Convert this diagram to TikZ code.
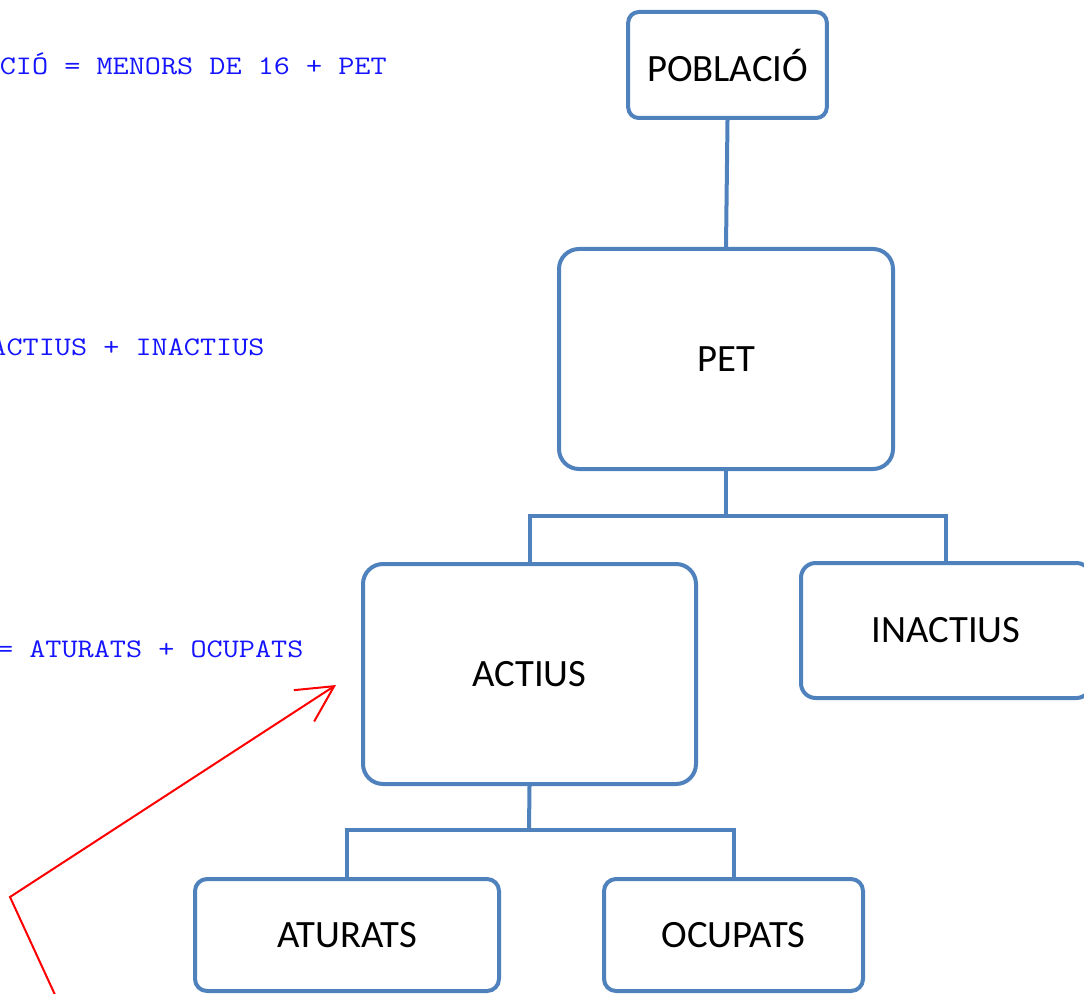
\documentclass[tikz,border=0pt]{standalone}
\usepackage{fontspec}
\setmainfont{Carlito}
\newfontfamily\monofnt[FakeStretch=1.168]{Latin Modern Mono}
\usetikzlibrary{arrows.meta}
\definecolor{boxblue}{RGB}{79,129,189}
\definecolor{txtblue}{RGB}{20,20,255}
\begin{document}
\begin{tikzpicture}[x=0.75pt,y=-0.75pt,
  box/.style={draw=boxblue,line width=3pt,rounded corners=9pt,fill=white,
    font=\fontsize{29}{34}\selectfont,align=center,inner sep=0pt},
  bigbox/.style={box,rounded corners=15pt},
  conn/.style={draw=boxblue,line width=3pt},
  eq/.style={anchor=base west,inner sep=0pt,text=txtblue,font=\monofnt\fontsize{20.1}{24}\selectfont},
  redarrow/.style={draw=red,line width=1.5pt,-{Straight Barb[length=27pt,width=28pt,line width=1.5pt]}}]
\useasboundingbox (0,0) rectangle (1084,994);
\clip (0,0) rectangle (1084,994);
% equations
\node[eq] (e1) at (-81,75) {POBLACIÓ = MENORS DE 16 + PET};
\node[eq] (e2) at (-106.5,356) {PET = ACTIUS + INACTIUS};
\node[eq] (e3) at (-116,657) {ACTIUS = ATURATS + OCUPATS};
% boxes
\node[box,rounded corners=8pt,minimum width=149pt,minimum height=79.5pt] (pob) at (727.5,65) {POBLACIÓ};
\node[bigbox,minimum width=250.5pt,minimum height=165pt] (pet) at (726,359) {PET};
\node[bigbox,minimum width=249.75pt,minimum height=165pt] (act) at (529.5,674) {ACTIUS};
\node[box,rounded corners=11pt,minimum width=217.5pt,minimum height=101.25pt] (inact) at (946,630.5) {INACTIUS};
\node[box,minimum width=228pt,minimum height=84pt] (atu) at (347,935) {ATURATS};
\node[box,minimum width=194.25pt,minimum height=84pt] (ocu) at (733.5,935) {OCUPATS};
% connectors
\coordinate (b1) at (726,516);
\coordinate (b2) at (529,830);
\draw[conn] (pob.south) -- (pet.north);
\draw[conn] (pet.south) -- (b1);
\draw[conn] (act.north) |- (b1) -| (inact.north);
\draw[conn] (act.south) -- (b2);
\draw[conn] (atu.north) |- (b2) -| (ocu.north);
% red arrow
\coordinate (r0) at (62,1010);
\coordinate (r1) at (10,897);
\coordinate (r2) at (336,685);
\draw[redarrow] (r0) -- (r1) -- (r2);
\end{tikzpicture}
\end{document}
